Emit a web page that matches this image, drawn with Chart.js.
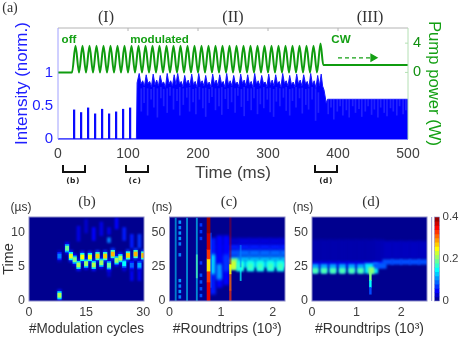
<!DOCTYPE html>
<html><head><meta charset="utf-8">
<style>
html,body{margin:0;padding:0;background:#fff;width:460px;height:338px;overflow:hidden}
#wrap{position:relative;width:460px;height:338px;filter:blur(.3px)}
canvas{position:absolute;left:0;top:0}
.t{position:absolute;transform:translate(-50%,-50%);white-space:nowrap;line-height:1}
.s{font-family:"Liberation Serif",serif;color:#333}
.u{font-family:"Liberation Sans",sans-serif;color:#333;font-size:12px}
.g{font-family:"Liberation Sans",sans-serif;font-weight:bold;color:#14a014;font-size:11.6px}
.k{font-family:"DejaVu Sans",sans-serif;font-weight:bold;color:#222;font-size:7.5px;letter-spacing:.5px}
.b{position:absolute;border:solid #111;border-width:0 2px 2px 2px;box-sizing:border-box;height:8px;top:165px}
</style>
<script src="https://cdn.jsdelivr.net/npm/chart.js@4"></script>
</head><body>
<div id="wrap">
<canvas id="a" width="460" height="338"></canvas>
<canvas id="pb" width="460" height="338"></canvas>
<canvas id="pc" width="460" height="338"></canvas>
<canvas id="pd" width="460" height="338"></canvas>
<canvas id="cb" width="460" height="338"></canvas>
<span class="t s" style="left:10px;top:8px;font-size:14px">(a)</span>
<span class="t s" style="left:106px;top:17px;font-size:16px">(I)</span>
<span class="t s" style="left:233px;top:17px;font-size:16px">(II)</span>
<span class="t s" style="left:370px;top:17px;font-size:16px">(III)</span>
<span class="t g" style="left:69px;top:39px">off</span>
<span class="t g" style="left:159.5px;top:39px">modulated</span>
<span class="t g" style="left:341px;top:39px">CW</span>
<div class="b" style="left:62px;width:24px"></div>
<div class="b" style="left:125px;width:24px"></div>
<div class="b" style="left:314px;width:24px"></div>
<span class="t k" style="left:73px;top:181px">(b)</span>
<span class="t k" style="left:135px;top:181px">(c)</span>
<span class="t k" style="left:326px;top:181px">(d)</span>
<span class="t s" style="left:87px;top:201px;font-size:15px">(b)</span>
<span class="t s" style="left:229px;top:201px;font-size:15px">(c)</span>
<span class="t s" style="left:371px;top:201px;font-size:15px">(d)</span>
<span class="t u" style="left:21px;top:207px">(µs)</span>
<span class="t u" style="left:162px;top:207px">(ns)</span>
<span class="t u" style="left:303px;top:207px">(ns)</span>
</div>
<script>
// ---------- panel (a) ----------
const timeTicks=[0,100,200,300,400,500];
const intensityTicks=[0,0.5,1];
const pumpTicks=[0,4];
const pulseTime=[23,33,43,53,63,73,83,93,103];
const pulseHeight=[.44,.40,.47,.38,.45,.38,.41,.45,.47];
const offTime=[0,113];
const offValue=[0,0];
const intensityTime=[112,113,
116,118.5,121,123.5,126,128.5,131,133.5,136,138.5,141,143.5,146,148.5,151,153.5,156,158.5,161,163.5,166,168.5,
171,173.5,176,178.5,181,183.5,186,188.5,191,193.5,196,198.5,201,203.5,206,208.5,211,213.5,216,218.5,221,223.5,226,228.5,
231,233.5,236,238.5,241,243.5,246,248.5,251,253.5,256,258.5,261,263.5,266,268.5,271,273.5,276,278.5,281,283.5,286,288.5,
291,293.5,296,298.5,301,303.5,306,308.5,311,313.5,316,318.5,321,323.5,326,328.5,331,333.5,336,338.5,341,343.5,346,348.5,
351,353.5,356,358.5,361,363.5,366,368.5,371,373.5,376,378,380,382,383,385,500];
const intensityValue=[0,.85,
.99,.83,.88,.80,.97,.84,.87,.79,.98,.82,.89,.80,.96,.84,.86,.78,.99,.83,.88,.80,.97,.82,
.99,.84,.87,.79,.96,.83,.89,.80,.98,.82,.87,.78,.99,.84,.88,.80,.96,.82,.86,.79,.98,.83,.89,.80,
.97,.84,.87,.78,.99,.82,.88,.80,.96,.83,.86,.79,.98,.84,.89,.80,.97,.82,.87,.78,.99,.83,.88,.80,
.96,.84,.86,.79,.98,.82,.89,.80,.97,.83,.87,.78,.99,.84,.88,.80,.96,.82,.86,.79,.98,.83,.89,.80,
.97,.84,.87,.78,.99,.82,.88,.77,.96,.80,.98,.80,.74,.62,.54,.60,.60];
const streakTime=[119,123,128,133,137,142,147,151,156,160,165,170,174,179,184,188,193,197,202,207,211,216,220,225,230,234,239,243,248,253,257,262,266,271,276,280,285,289,294,299,303,308,312,317,322,326,331,335,340,345,349,354,358,363,368,372,
386,390,394,399,403,407,412,416,421,425,430,434,439,443,448,452,457,461,466,470,475,479,484,488,493,497];
const streakLow=[.42,.55,.36,.60,.48,.33,.62,.50,.40,.66,.45,.58,.36,.52,.63,.42,.56,.38,.60,.47,.34,.55,.64,.44,.50,.37,.61,.46,.56,.40,.66,.49,.35,.58,.44,.62,.38,.53,.47,.60,.41,.34,.57,.50,.63,.43,.36,.58,.48,.62,.39,.52,.45,.60,.28,.40,
.38,.48,.30,.42,.50,.36,.44,.33,.50,.40,.46,.34,.42,.50,.37,.45,.33,.48,.40,.35,.47,.42,.36,.50,.38,.44];
const streakHigh=[.76,.78,.76,.75,.78,.76,.78,.75,.76,.78,.76,.75,.78,.76,.77,.78,.75,.76,.78,.76,.77,.75,.78,.76,.76,.78,.75,.76,.78,.76,.77,.75,.78,.76,.76,.78,.75,.76,.78,.76,.77,.75,.78,.76,.76,.78,.75,.76,.78,.76,.77,.75,.76,.78,.76,.70,
.60,.60,.60,.60,.60,.60,.60,.60,.60,.60,.60,.60,.60,.60,.60,.60,.60,.60,.60,.60,.60,.60,.60,.60,.60,.60];
const pumpTime=[0,20,25,30,35,40,45,50,55,60,65,70,75,80,85,90,95,100,105,110,115,120,125,130,135,140,145,150,155,160,165,170,175,180,185,190,195,200,205,210,215,220,225,230,235,240,245,250,255,260,265,270,275,280,285,290,295,300,305,310,315,320,325,330,335,340,345,350,355,360,365,370,375,379,500];
const pumpWatts=[0,0,3.65,0,3.65,0,3.65,0,3.65,0,3.65,0,3.65,0,3.65,0,3.65,0,3.65,0,3.65,0,3.65,0,3.65,0,3.65,0,3.65,0,3.65,0,3.65,0,3.65,0,3.65,0,3.65,0,3.65,0,3.65,0,3.65,0,3.65,0,3.65,0,3.65,0,3.65,0,3.65,0,3.65,0,3.65,0,3.65,0,3.65,0,3.65,0,3.65,0,3.65,0,3.65,0,3.95,1,1];
const arrowTime=[400,450];
const arrowWatts=[2,2];

// ---------- panel (b) ----------
const bCycleTicks=[0,15,30];
const bTimeTicks=[0,5,10];
const bCycle=[8,8,10,11,12,13,14,15,16,17,18,19,20,21,22,23,24,25,26,27,28,29,30];
const bTime=[.84,6.6,7.75,6.6,6.08,5.3,6.47,5.5,6.47,5.3,6.6,5.63,6.6,5.25,6.9,5.97,6.3,5.5,6.7,5.25,6.9,5.25,6.7];
const bPeak=[.22,.10,.19,.24,.20,.22,.25,.21,.25,.22,.27,.21,.27,.19,.28,.21,.22,.15,.27,.09,.28,.12,.28];
const bFaintCycle=[13,15,17,19,21,21,23,25,27,29,27,29,21,25];
const bFaintLo=[8.8,10,8.9,9.6,8.6,9.8,10.6,8.9,7.8,7.8,3,3,3.6,4.4];
const bFaintHi=[11,12,10.8,11.6,9.3,10.8,12.2,10.8,9.8,9.8,6.4,6.4,6.2,6.4];
const bFaintLevel=[.04,.03,.05,.04,.10,.04,.05,.06,.06,.07,.045,.045,.03,.03];

// ---------- panel (c) ----------
const roundTicksC=[0,1,2];
const nsTicks=[0,25,50];
const cBandX=[.9,1.05,1.25,1.45,1.65,1.85,2.05,2.25];
const cBandLo=[29,33,38,42];
const cBandHi=[33,38,42,46];
const cBandLevel=[[.04,.04,.11,.12,.12,.12,.12,.12],[.03,.03,.08,.09,.09,.09,.09,.09],[.03,.03,.06,.06,.06,.06,.06,.06],[.02,.02,.03,.035,.035,.035,.035,.035]];
const cLobeX=[.84,.84,.97,.97,1.1,1.1];
const cLobeLo=[5,20,10,16,12,22];
const cLobeHi=[46,34,48,27,48,34];
const cLobeLevel=[.06,.13,.05,.11,.05,.07];
const cCoreX=[1.3,1.42,1.52,1.62,1.72,1.82,1.92,2.02,2.12,2.22];
const cCoreLo=[25,25,25,25,25,25,25,25,25,25];
const cCoreHi=[29,29,29,29,29,29,29,29,29,29];
const cCoreLevel=[.13,.13,.13,.13,.13,.13,.13,.13,.13,.13];
const cBlobX=[1.25,1.37,1.57,1.76,1.96,2.15];
const cBlobLo=[23,22,22,22,22,22];
const cBlobHi=[31,29.5,29.5,29.5,29.5,29.5];
const cBlobLevel=[.2,.155,.155,.155,.155,.155];
const cHotX=[1.24,1.37,1.57,1.76,1.96,2.15];
const cHotLo=[24,23.5,23.5,23.5,23.5,23.5];
const cHotHi=[29,27.5,27.5,27.5,27.5,27.5];
const cHotLevel=[.23,.175,.175,.175,.175,.175];
const cStreakX=[.12,.34,.53,.53,1.38,1.38,.78,.8];
const cStreakLo=[0,0,0,17,15,25,20,10];
const cStreakHi=[61,61,61,34,25,41,34,50];
const cStreakLevel=[.14,.14,.14,.18,.15,.10,.17,.08];
const cStreakAlpha=[.55,.6,.6,.7,.7,.6,.9,.8];
const cDotX=[.2,.2,.2,.2,.2,.2,.2,.2,.2,.2,.61,.61,.61,.61,.61,.61,.61,.61];
const cDotLo=[2,6,10,14,41,45,49,53,57,33,3,8,13,18,45,50,55,27];
const cDotHi=[4,8,12,16,43,47,51,55,59,35,5,10,15,20,47,52,57,29];
const cDotLevel=[.10,.11,.10,.11,.10,.11,.11,.10,.11,.10,.08,.08,.08,.08,.07,.07,.07,.07];
const cRedX=[.757,.757,.757,.757,.757,.757];
const cRedLo=[0,14,22,31,38,50];
const cRedHi=[14,22,31,38,50,62];
const cRedLevel=[.36,.33,.26,.33,.37,.39];
const cThinX=[1.18,1.18,1.18,1.18];
const cThinLo=[0,8,20,27];
const cThinHi=[8,20,27,62];
const cThinLevel=[.33,.31,.25,.38];
const cThinAlpha=[.7,.8,.9,.42];

// ---------- panel (d) ----------
const roundTicksD=[0,1,2];
const dBandX=[.1,.3,.5,.7,.9,1.1,1.3,1.5,1.7,1.9,2.1,2.3,2.5];
const dBandUpper=[.018,.018,.018,.018,.018,.018,.018,.02,.025,.025,.025,.025,.025];
const dBandLower=[.04,.04,.04,.04,.04,.04,.04,.05,.08,.08,.08,.08,.08];
const dBandUpperLo=[28,28,28,28,28,28,28,29,31,31,31,31,31];
const dBandUpperHi=[45,45,45,45,45,45,45,45,44,44,44,44,44];
const dBandLowerLo=[25,25,25,25,25,25,25,25,27,27,27,27,27];
const dBandLowerHi=[29,29,29,29,29,29,29,29,30.5,30.5,30.5,30.5,30.5];
const dCupX=[.07,.27,.47,.68,.89,1.09];
const dCupLo=[21,21,21,21,21,21];
const dCupHi=[27,27,27,27,27,27];
const dCupLevel=[.115,.115,.115,.115,.115,.115];
const dCoreX=[.07,.27,.47,.68,.89,1.09,1.33];
const dCoreLo=[20.4,20.4,20.4,20.4,20.4,20.4,20.2];
const dCoreHi=[24,24,24,24,24,24,24.6];
const dCoreLevel=[.18,.18,.18,.18,.18,.18,.205];
const dBigX=[1.33,1.52];
const dBigLo=[20.5,24];
const dBigHi=[27.5,28];
const dBigLevel=[.14,.085];
const dSpikeX=[1.31,1.31,1.31];
const dSpikeLo=[15,10,5];
const dSpikeHi=[21,15,10];
const dSpikeLevel=[.2,.15,.08];

// ---------- colour bar ----------
const colorbarTicks=[0,.2,.4];
const colorbarLevels=[0,.02,.04,.06,.08,.1,.12,.14,.16,.18,.2,.22,.24,.26,.28,.3,.32,.34,.36,.38];

// ---------- helpers ----------
const SANS='"Liberation Sans",Arial,sans-serif';
const vMax=.4, BG='#00008f';
function jet(level,alpha=1){
  const f=Math.max(0,Math.min(1,level/vMax));
  const c=v=>Math.round(255*Math.max(0,Math.min(1,v)));
  return `rgba(${c(1.5-Math.abs(4*f-3))},${c(1.5-Math.abs(4*f-2))},${c(1.5-Math.abs(4*f-1))},${alpha})`;
}
const fixTicks=vals=>axis=>{axis.ticks=vals.map(value=>({value}));};
const fixW=w=>s=>{s.width=w;};
const fixH=h=>s=>{s.height=h;};
const label=v=>String(v);

function cells(xs,los,his,levels,px,blur,order,alpha){
  return {type:'bar',data:xs.map((x,i)=>({x,y:[los[i],his[i]]})),
    backgroundColor:levels.map((l,i)=>jet(l,alpha?alpha[i]:1)),
    borderWidth:0,barThickness:px,grouped:false,blurPx:blur,order};
}
const blurPlugin={id:'cellBlur',
  beforeDatasetDraw(chart,args){const b=chart.data.datasets[args.index].blurPx; if(b) chart.ctx.filter=`blur(${b}px)`;},
  afterDatasetDraw(chart){chart.ctx.filter='none';}};
const bgPlugin={id:'plotBg',beforeDatasetsDraw(chart){const a=chart.chartArea;chart.ctx.fillStyle=BG;chart.ctx.fillRect(a.left,a.top,a.width,a.height);}};
const edgePlugin={id:'edge',afterDatasetsDraw(chart){
  const a=chart.chartArea,c=chart.ctx;c.save();c.strokeStyle='#8c8cc8';c.lineWidth=1;
  c.strokeRect(a.left,a.top,a.width,a.height);c.restore();}};

function heat(id,box,xr,yr,xt,yt,datasets,xTitle,yTitle){
  const [l,t,r,b]=box;
  return new Chart(document.getElementById(id),{type:'bar',data:{datasets},plugins:[bgPlugin,blurPlugin,edgePlugin],
    options:{responsive:false,animation:false,events:[],
      layout:{padding:{left:l-29,top:t,right:460-r,bottom:0}},
      plugins:{legend:{display:false},tooltip:{enabled:false}},
      scales:{
        x:{type:'linear',offset:false,min:xr[0],max:xr[1],afterBuildTicks:fixTicks(xt),afterFit:fixH(338-b),
          grid:{display:false,drawTicks:false},border:{display:false},
          ticks:{color:'#404040',font:{family:SANS,size:12.5},padding:4,maxRotation:0,autoSkip:false,callback:label},
          title:{display:true,text:xTitle,color:'#333',font:{family:SANS,size:14},padding:{top:0,bottom:0}}},
        y:{type:'linear',min:yr[0],max:yr[1],afterBuildTicks:fixTicks(yt),afterFit:fixW(29),
          grid:{display:false,drawTicks:false},border:{display:false},
          ticks:{color:'#404040',font:{family:SANS,size:12.5},padding:4,autoSkip:false,callback:label},
          title:{display:!!yTitle,text:yTitle||'',color:'#333',font:{family:SANS,size:14.5},padding:{top:0,bottom:0}}}
      }}});
}

// ---------- panel (a) chart ----------
const framePlugin={id:'frameA',afterDraw(chart){
  const a=chart.chartArea,c=chart.ctx,x=chart.scales.x,y2=chart.scales.y2,y=chart.scales.y;
  c.save();c.lineWidth=1;
  c.strokeStyle='#b4b4b4';c.beginPath();c.moveTo(a.left,a.top);c.lineTo(a.right,a.top);
  timeTicks.slice(1,-1).forEach(v=>{const p=x.getPixelForValue(v);c.moveTo(p,a.top);c.lineTo(p,a.top+3);});c.stroke();
  c.strokeStyle='#b4e0b4';c.beginPath();c.moveTo(a.right,a.top);c.lineTo(a.right,a.bottom);
  pumpTicks.forEach(v=>{const p=y2.getPixelForValue(v);c.moveTo(a.right,p);c.lineTo(a.right-3,p);});c.stroke();
  c.strokeStyle='#a0a0ff';c.beginPath();c.moveTo(a.left,a.top);c.lineTo(a.left,a.bottom);c.stroke();
  c.strokeStyle='#8080ff';c.beginPath();c.moveTo(a.left,a.bottom+.5);c.lineTo(a.right,a.bottom+.5);c.stroke();
  c.restore();}};
new Chart(document.getElementById('a'),{type:'bar',
  data:{datasets:[
    {type:'line',data:pumpTime.map((x,i)=>({x,y:pumpWatts[i]})),yAxisID:'y2',borderColor:'#0f9c0f',borderWidth:2,pointRadius:0,cubicInterpolationMode:'monotone',order:1},
    {type:'line',data:arrowTime.map((x,i)=>({x,y:arrowWatts[i]})),yAxisID:'y2',borderColor:'#14a014',borderWidth:1.3,borderDash:[4,3],
      pointRadius:[0,4],pointStyle:'triangle',rotation:90,pointBackgroundColor:'#14a014',pointBorderColor:'#14a014',order:1},
    {type:'bar',data:streakTime.map((x,i)=>({x,y:[streakLow[i],streakHigh[i]]})),backgroundColor:'rgba(80,80,255,.42)',borderWidth:0,barThickness:1,grouped:false,order:2},
    {type:'line',data:intensityTime.map((x,i)=>({x,y:intensityValue[i]})),borderColor:'#1515ff',backgroundColor:'#0000ff',borderWidth:1,pointRadius:0,fill:'origin',order:3},
    {type:'bar',data:pulseTime.map((x,i)=>({x,y:pulseHeight[i]})),backgroundColor:'#0a0aff',borderWidth:0,barThickness:1.6,grouped:false,order:3},
    {type:'line',data:offTime.map((x,i)=>({x,y:offValue[i]})),borderColor:'#1515ff',borderWidth:1.6,pointRadius:0,clip:false,order:3}
  ]},
  plugins:[framePlugin],
  options:{responsive:false,animation:false,events:[],
    layout:{padding:{left:12,top:28,right:16,bottom:154}},
    plugins:{legend:{display:false},tooltip:{enabled:false}},
    scales:{
      x:{type:'linear',offset:false,min:0,max:500,afterBuildTicks:fixTicks(timeTicks),afterFit:fixH(45),
        grid:{display:false,drawTicks:false},border:{display:false},
        ticks:{color:'#404040',font:{family:SANS,size:14},padding:7,maxRotation:0,autoSkip:false,callback:label},
        title:{display:true,text:'Time (ms)',color:'#404040',font:{family:SANS,size:17},padding:{top:0,bottom:0}}},
      y:{type:'linear',min:0,max:1.677,afterBuildTicks:fixTicks(intensityTicks),afterFit:fixW(46),
        grid:{display:false,drawTicks:false},border:{display:false},
        ticks:{color:'#1c1cff',font:{family:SANS,size:15},padding:5,autoSkip:false,callback:label},
        title:{display:true,text:'Intensity (norm.)',color:'#2020ff',font:{family:SANS,size:17},padding:{top:0,bottom:0}}},
      y2:{type:'linear',position:'right',min:-9.1,max:6.07,afterBuildTicks:fixTicks(pumpTicks),afterFit:fixW(36),
        grid:{display:false,drawTicks:false},border:{display:false},
        ticks:{color:'#109010',font:{family:SANS,size:14.5},padding:5,autoSkip:false,callback:label},
        title:{display:true,text:'Pump power (W)',color:'#14a014',font:{family:SANS,size:16.7},padding:{top:0,bottom:0}}}
    }}});

// ---------- panel (b) chart ----------
const bDatasets=[
  cells(bFaintCycle,bFaintLo,bFaintHi,bFaintLevel,3,1.1,9),
  cells(bCycle,bTime.map(t=>t-.85),bTime.map(t=>t+.85),bPeak.map(p=>p*.25),3.6,1,8),
  cells(bCycle,bTime.map(t=>t-.55),bTime.map(t=>t+.55),bPeak.map(p=>p*.62),3.6,.7,7),
  cells(bCycle,bTime.map(t=>t-.3),bTime.map(t=>t+.3),bPeak,3.2,.6,6)
];
heat('pb',[29,217,144,301],[0,30.2],[0,12.35],bCycleTicks,bTimeTicks,bDatasets,'#Modulation cycles','Time');

// ---------- panel (c) chart ----------
const cBandSets=cBandLevel.map((row,r)=>cells(cBandX,cBandX.map(()=>cBandLo[r]),cBandX.map(()=>cBandHi[r]),row,11,1.4,20-r));
const cDatasets=[...cBandSets,
  cells(cLobeX,cLobeLo,cLobeHi,cLobeLevel,5.5,1.4,12),
  cells(cCoreX,cCoreLo,cCoreHi,cCoreLevel,6,1,11),
  cells(cBlobX,cBlobLo,cBlobHi,cBlobLevel,7,1.1,10),
  cells(cHotX,cHotLo,cHotHi,cHotLevel,4.5,1,9),
  cells(cStreakX,cStreakLo,cStreakHi,cStreakLevel,1.2,.5,8,cStreakAlpha),
  cells(cDotX,cDotLo,cDotHi,cDotLevel,2,.6,7),
  cells(cThinX,cThinLo,cThinHi,cThinLevel,1.6,.5,6,cThinAlpha),
  cells(cRedX,cRedLo,cRedHi,cRedLevel,3,.5,5)
];
heat('pc',[169.5,217,285,301],[0,2.24],[0,61.8],roundTicksC,nsTicks,cDatasets,'#Roundtrips (10³)');

// ---------- panel (d) chart ----------
const dDatasets=[
  cells(dBandX,dBandUpperLo,dBandUpperHi,dBandUpper,10,1.4,12),
  cells(dBandX,dBandLowerLo,dBandLowerHi,dBandLower,10,1.2,11),
  cells(dBigX,dBigLo,dBigHi,dBigLevel,13,1.1,10),
  cells(dCupX,dCupLo,dCupHi,dCupLevel,6.6,1,9),
  cells(dCoreX,dCoreLo,dCoreHi,dCoreLevel,5.4,.9,8),
  cells(dSpikeX,dSpikeLo,dSpikeHi,dSpikeLevel,1.8,.5,7)
];
heat('pd',[312,217,427,301],[0,2.58],[0,61.8],roundTicksD,nsTicks,dDatasets,'#Roundtrips (10³)');

// ---------- colour bar ----------
const cbPlugin={id:'cbLine',afterDraw(chart){const a=chart.chartArea,c=chart.ctx;c.save();
  c.fillStyle='#a8a8d8';c.fillRect(431,a.top,1.2,a.height);c.strokeStyle='#8c8cc8';c.lineWidth=.6;c.strokeRect(a.left,a.top,a.width,a.height);c.restore();}};
new Chart(document.getElementById('cb'),{type:'bar',
  data:{datasets:[{data:colorbarLevels.map(l=>({x:0,y:[l,l+.02]})),backgroundColor:colorbarLevels.map(l=>jet(l+.01)),borderWidth:0,barThickness:8,grouped:false}]},
  plugins:[cbPlugin],
  options:{responsive:false,animation:false,events:[],
    layout:{padding:{left:434.5,top:217,right:0,bottom:37}},
    plugins:{legend:{display:false},tooltip:{enabled:false}},
    scales:{
      x:{type:'linear',offset:false,min:-1,max:1,display:false},
      y:{type:'linear',position:'right',min:0,max:.4,afterBuildTicks:fixTicks(colorbarTicks),afterFit:fixW(20.5),
        grid:{display:false,drawTicks:false},border:{display:false},
        ticks:{color:'#404040',font:{family:SANS,size:11.5},padding:3,autoSkip:false,callback:label}}
    }}});
</script>
</body></html>
